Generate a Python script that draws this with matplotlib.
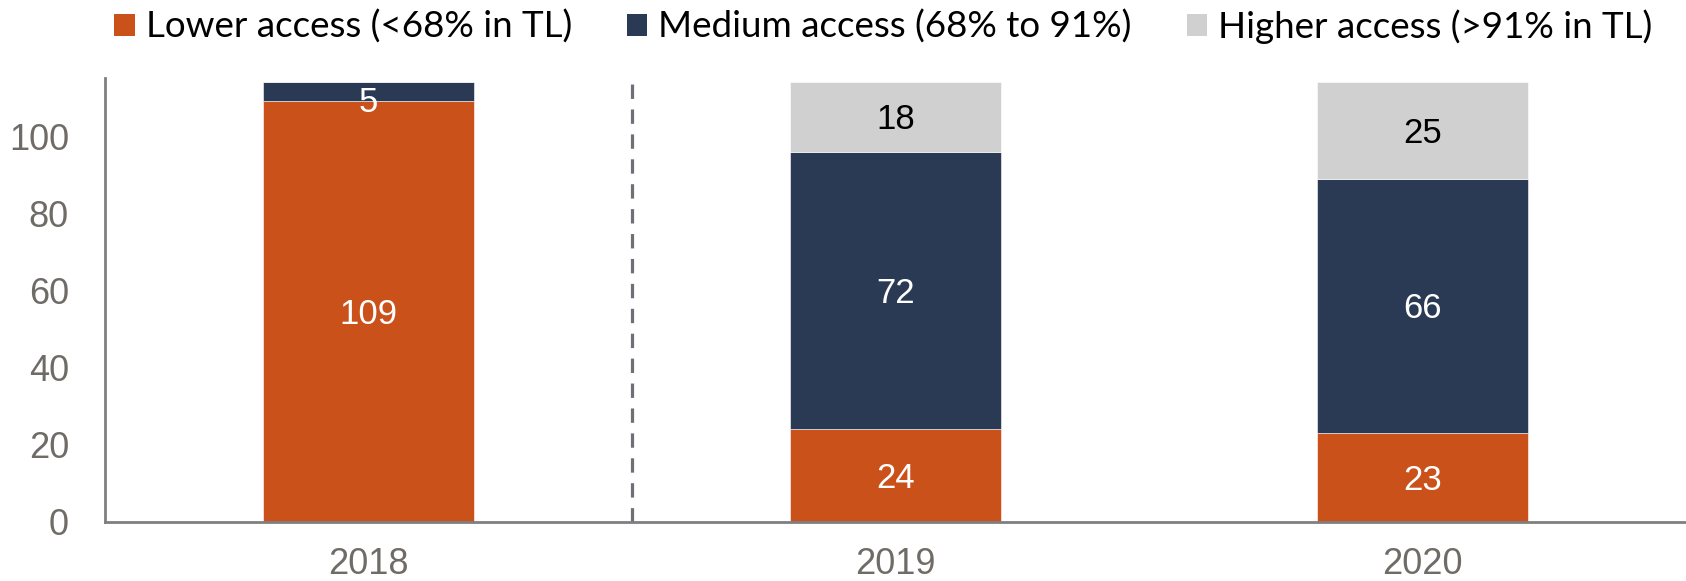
import matplotlib
matplotlib.use("Agg")
import matplotlib.pyplot as plt
from matplotlib.patches import Patch
import numpy as np

years = ["2018", "2019", "2020"]
lower = [109, 24, 23]
medium = [5, 72, 66]
higher = [0, 18, 25]
series_names = ["Lower access (<68% in TL)", "Medium access (68% to 91%)", "Higher access (>91% in TL)"]
colors = ["#CB511B", "#2A3A54", "#D0D0D0"]
label_colors = ["white", "white", "black"]

fig = plt.figure(figsize=(16.86, 5.81), dpi=100)
ax = fig.add_axes([0.0623, 0.102, 0.9377, 0.7646])

x = np.arange(len(years))
width = 0.4
bottoms = np.zeros(len(years))
for vals, col, lc in zip([lower, medium, higher], colors, label_colors):
    vals = np.array(vals, dtype=float)
    ax.bar(x, vals, width=width, bottom=bottoms, color=col, edgecolor="white", linewidth=0.4)
    for xi, v, b in zip(x, vals, bottoms):
        if v > 0:
            y = b + v / 2 - 0.8
            if v < 8:
                y -= 2.0
            ax.text(xi, y, f"{int(v)}", ha="center", va="center",
                    fontsize=25, color=lc, family="Liberation Sans")
    bottoms += vals

ymax = 115.2
total = max(bottoms)
ax.axvline(0.5, ymin=0, ymax=total / ymax, color="#6e7076", linewidth=2.3,
           linestyle=(0, (4.5, 3.3)))

ax.set_xlim(-0.5, 2.5)
ax.set_ylim(0, ymax)
ax.set_yticks([0, 20, 40, 60, 80, 100])
ax.set_xticks(x)
ax.set_xticklabels(years)
for lab in ax.get_xticklabels() + ax.get_yticklabels():
    lab.set_family("Liberation Sans")
    lab.set_fontsize(26)
    lab.set_color("#6f6b66")
ax.tick_params(axis="both", length=0)
ax.tick_params(axis="y", pad=26)
ax.tick_params(axis="x", pad=18)
for s in ["top", "right"]:
    ax.spines[s].set_visible(False)
for s in ["left", "bottom"]:
    ax.spines[s].set_color("#7f7f7f")
    ax.spines[s].set_linewidth(2)

handles = [Patch(facecolor=c, edgecolor="none") for c in colors]
fig.legend(handles, series_names, loc="center", bbox_to_anchor=(0.524, 0.954), ncol=3,
           frameon=False, prop={"family": "Lato", "size": 26.5},
           handlelength=0.55, handleheight=0.55, handletextpad=0.3, columnspacing=1.5,
           borderaxespad=0, borderpad=0)

fig.savefig("out.png", dpi=100)
